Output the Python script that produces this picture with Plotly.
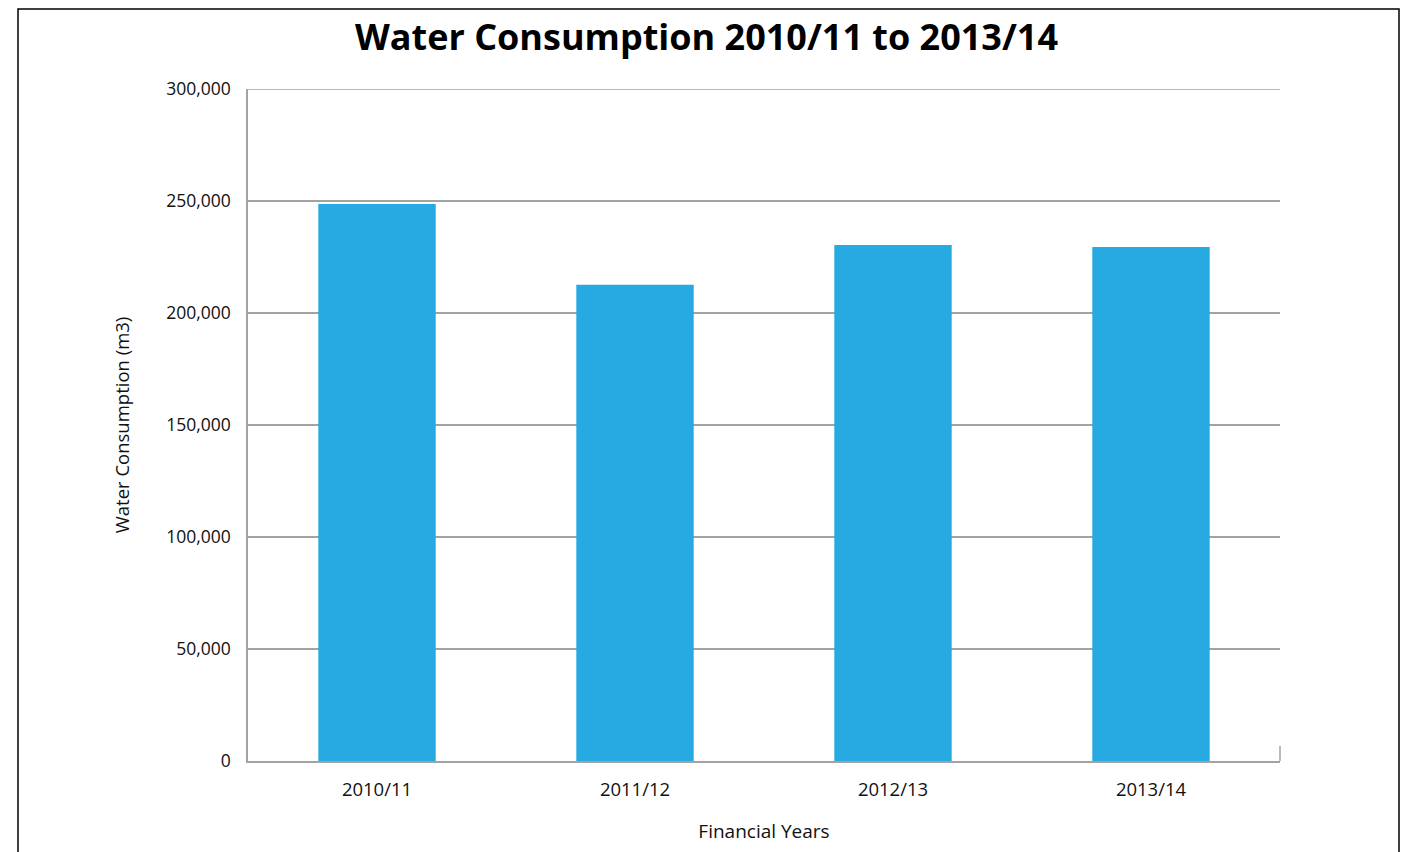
import plotly.graph_objects as go

# Annual water consumption (cubic metres) by financial year
years = ["2010/11", "2011/12", "2012/13", "2013/14"]
consumption = [248700, 212600, 230400, 229500]
y_ticks = [0, 50000, 100000, 150000, 200000, 250000, 300000]
y_tick_text = ["0", "50,000", "100,000", "150,000", "200,000", "250,000", "300,000"]

FONT = "Open Sans"
GRID = "#a3a3a3"

fig = go.Figure(
    go.Bar(
        x=years,
        y=consumption,
        marker=dict(color="#27AAE1", line=dict(width=0)),
        width=0.455,
    )
)

# plot area placement (pixels)
W, H = 1401, 852
L, R, T, B = 248, 121, 89, 91
pw, ph = W - L - R, H - T - B

def px_x(px):
    return (px - L) / pw

def px_y(py):
    return (H - B - py) / ph

fig.update_layout(
    width=W,
    height=H,
    margin=dict(l=L, r=R, t=T, b=B),
    paper_bgcolor="white",
    plot_bgcolor="white",
    showlegend=False,
    font=dict(family=FONT, color="#111111"),
    title=dict(
        text="<b>Water Consumption 2010/11 to 2013/14</b>",
        x=(358 + 1055) / 2 / W,
        xanchor="center",
        y=1 - 37 / H,
        yanchor="middle",
        font=dict(family=FONT, size=36, color="#000000"),
    ),
    xaxis=dict(
        title=dict(text="Financial Years", font=dict(size=19), standoff=25),
        tickfont=dict(size=18.5),
        showgrid=False,
        showline=True,
        linecolor=GRID,
        linewidth=1.5,
        ticks="outside",
        tickcolor="rgba(0,0,0,0)",
        ticklen=11,
        range=[-0.5, 3.5],
    ),
    yaxis=dict(
        title=dict(text="Water Consumption (m3)", font=dict(size=18.5), standoff=32),
        tickfont=dict(size=17.5),
        range=[0, 300000],
        tickvals=y_ticks,
        ticktext=y_tick_text,
        showgrid=True,
        gridcolor=GRID,
        gridwidth=1.5,
        showline=True,
        linecolor=GRID,
        linewidth=1.5,
        zeroline=False,
        ticks="outside",
        tickcolor="rgba(0,0,0,0)",
        ticklen=12,
    ),
    shapes=[
        # outer frame around the whole chart
        dict(
            type="rect",
            xref="paper",
            yref="paper",
            x0=px_x(18),
            x1=px_x(1399),
            y0=px_y(870),
            y1=px_y(9),
            line=dict(color="#000000", width=1.5),
            fillcolor="rgba(0,0,0,0)",
            layer="below",
        ),
        # top gridline at the axis maximum
        dict(
            type="line",
            xref="paper",
            yref="y",
            x0=0,
            x1=1,
            y0=y_ticks[-1],
            y1=y_ticks[-1],
            line=dict(color=GRID, width=1.5),
            layer="below",
        ),
        # small end tick at the right of the category axis
        dict(
            type="line",
            xref="paper",
            yref="paper",
            x0=1,
            x1=1,
            y0=0,
            y1=px_y(746),
            line=dict(color=GRID, width=1.5),
        ),
    ],
)

fig.write_html("out.html")
